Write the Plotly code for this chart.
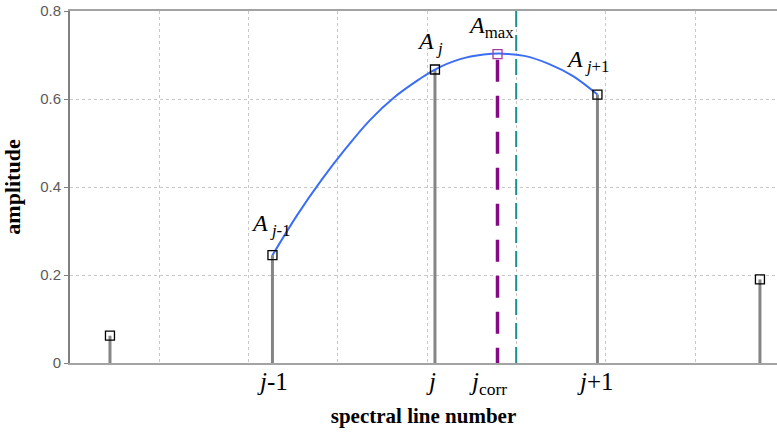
import plotly.graph_objects as go

# ---- data ----
line_pos = [-2, -1, 0, 1, 2]                 # spectral lines relative to j
amps = [0.062, 0.245, 0.667, 0.610, 0.190]   # amplitudes

curve_x = [-1.0, -0.85, -0.7, -0.55, -0.4, -0.25, -0.1, 0.0, 0.15, 0.3, 0.42, 0.55, 0.7, 0.85, 1.0]
curve_y = [0.245, 0.335, 0.415, 0.487, 0.552, 0.604, 0.644, 0.667, 0.69, 0.701, 0.703, 0.698, 0.68, 0.652, 0.61]

j_corr = 0.385
a_max = 0.702
true_pos = 0.5

x_range = [-2.246, 2.105]
y_range = [0, 0.8]
y_ticks = [0, 0.2, 0.4, 0.6, 0.8]
y_ticktext = ["0", "0.2", "0.4", "0.6", "0.8"]

x_label_pos = [-1, 0, j_corr, 1]
x_label_text = ["<i>j</i>-1", "<i>j</i>", "<i>j</i><sub>corr</sub>", "<i>j</i>+1"]

peak_labels = ["<i>A</i><sub> <i>j</i>-1</sub>", "<i>A</i><sub> <i>j</i></sub>", "<i>A</i><sub>max</sub>", "<i>A</i><sub> <i>j</i>+1</sub>"]
peak_label_x = [-1, 0, j_corr, 1]
peak_label_y = [amps[1], amps[2], a_max, amps[3]]

SERIF = "Liberation Serif, Times New Roman, serif"

fig = go.Figure()

# stems
sx, sy = [], []
for x, y in zip(line_pos, amps):
    sx += [x, x, None]
    sy += [0, y, None]
fig.add_trace(go.Scatter(x=sx, y=sy, mode="lines",
                         line=dict(color="#858585", width=3), hoverinfo="skip"))

# interpolation curve
fig.add_trace(go.Scatter(x=curve_x, y=curve_y, mode="lines", line_shape="spline",
                         line=dict(color="#3a6ef5", width=2)))

# markers on lines
fig.add_trace(go.Scatter(x=line_pos, y=amps, mode="markers",
                         marker=dict(symbol="square-open", size=9, color="black",
                                     line=dict(width=1.3, color="black"))))

# j_corr purple dashed line
fig.add_trace(go.Scatter(x=[j_corr, j_corr], y=[a_max - 0.013, 0], mode="lines",
                         line=dict(color="#850a85", width=3.5, dash="22px,14px")))

# teal dashed line
fig.add_trace(go.Scatter(x=[true_pos, true_pos], y=[y_range[1], 0], mode="lines",
                         line=dict(color="#178f8d", width=2, dash="16px,8px")))

# A_max marker
fig.add_trace(go.Scatter(x=[j_corr], y=[a_max], mode="markers",
                         marker=dict(symbol="square-open", size=9, color="#a43ca4",
                                     line=dict(width=1.3, color="#a43ca4"))))

annotations = []
shifts = [(-1, 30), (-5, 27), (-7, 27), (-10, 34)]
for txt, x, y, (dx, dy) in zip(peak_labels, peak_label_x, peak_label_y, shifts):
    annotations.append(dict(x=x, y=y, xref="x", yref="y", text=txt, showarrow=False,
                            xanchor="center", yanchor="middle", xshift=dx, yshift=dy,
                            font=dict(family=SERIF, size=24, color="black")))

xl_shift = [0, -4, -10, -2]
for txt, x, dx in zip(x_label_text, x_label_pos, xl_shift):
    annotations.append(dict(x=x, y=0, xref="x", yref="paper", text=txt, showarrow=False,
                            xanchor="center", yanchor="top", xshift=dx, yshift=-3,
                            font=dict(family=SERIF, size=25, color="black")))

fig.update_layout(
    width=777, height=432,
    margin=dict(l=70, r=0, t=11, b=69),
    paper_bgcolor="white", plot_bgcolor="white",
    showlegend=False,
    annotations=annotations,
    xaxis=dict(range=x_range, tick0=x_range[0], dtick=0.5495, automargin=False,
               showticklabels=False, ticks="",
               showgrid=True, gridcolor="#c8c8c8", gridwidth=1, griddash="3px,3px",
               showline=True, linecolor="#a3a3a3", linewidth=2, mirror=True,
               zeroline=False,
               title=dict(text="<b>spectral line number</b>", standoff=44,
                          font=dict(family=SERIF, size=21, color="black"))),
    yaxis=dict(range=y_range, tickvals=y_ticks, ticktext=y_ticktext, automargin=False,
               ticks="outside", ticklen=4, tickcolor="#808080", tickwidth=1,
               tickfont=dict(family="Liberation Sans, Arial, sans-serif", size=15, color="#5a5a5a"),
               showgrid=True, gridcolor="#c8c8c8", gridwidth=1, griddash="3px,3px",
               showline=True, linecolor="#808080", linewidth=2,
               zeroline=False,
               title=dict(text="<b>amplitude</b>", standoff=14,
                          font=dict(family=SERIF, size=22, color="black"))),
)

fig.write_html("out.html", config={"displayModeBar": False},
               post_script="document.body.style.margin='0';document.body.style.overflow='hidden';")
